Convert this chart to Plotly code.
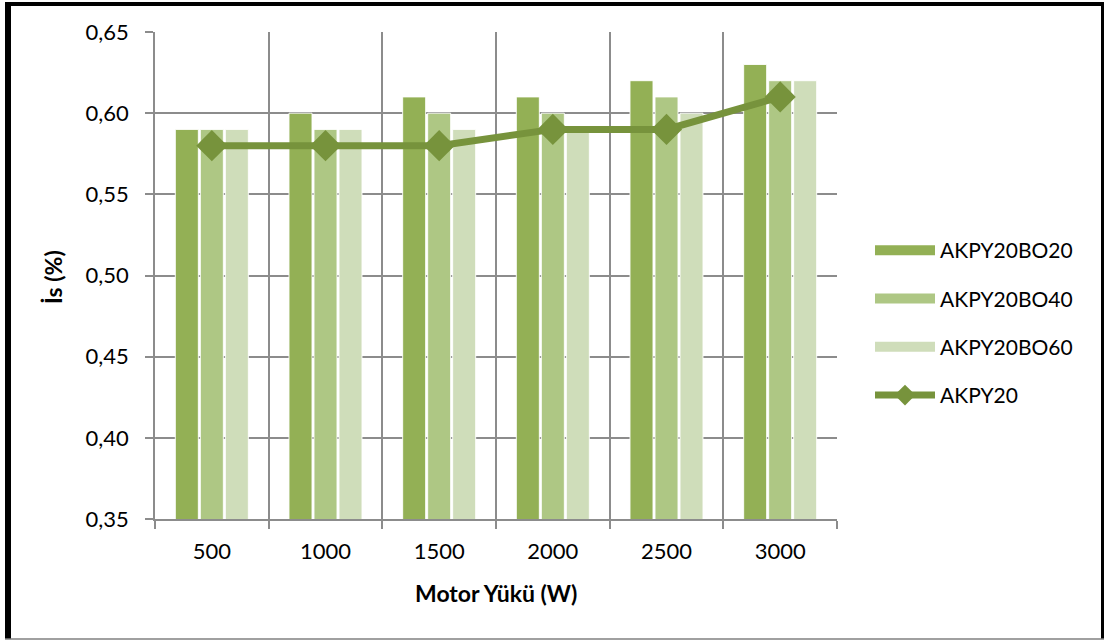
import plotly.graph_objects as go

# Motor load categories (W)
loads = ["500", "1000", "1500", "2000", "2500", "3000"]

# İs (%) values per blend
akpy20bo20 = [0.59, 0.60, 0.61, 0.61, 0.62, 0.63]
akpy20bo40 = [0.59, 0.59, 0.60, 0.60, 0.61, 0.62]
akpy20bo60 = [0.59, 0.59, 0.59, 0.59, 0.60, 0.62]
akpy20 = [0.58, 0.58, 0.58, 0.59, 0.59, 0.61]

y_ticks = [0.35, 0.40, 0.45, 0.50, 0.55, 0.60, 0.65]

W, H = 1105, 640
L, R, T, B = 155, 837, 32, 519  # plot area in pixels

FONT = "Lato, 'Open Sans', sans-serif"
GRID = "#8c8c8c"


def px_x(x):
    return (x - L) / (R - L)


def px_y(y):
    return (B - y) / (B - T)


fig = go.Figure()

bar_series = [
    ("AKPY20BO20", akpy20bo20, "#93B055", "a"),
    ("AKPY20BO40", akpy20bo40, "#AEC784", "b"),
    ("AKPY20BO60", akpy20bo60, "#CFDDBA", "c"),
]
for name, vals, col, grp in bar_series:
    fig.add_trace(go.Bar(
        x=loads, y=vals, name=name, legendgroup=grp, showlegend=False,
        marker=dict(color=col, line=dict(color="rgba(255,255,255,0.9)", width=1)),
    ))

# wide swatches for the bar series in the legend
for name, vals, col, grp in bar_series:
    fig.add_trace(go.Scatter(
        x=[None], y=[None], name=name, legendgroup=grp,
        mode="lines", line=dict(color=col, width=12),
        hoverinfo="skip",
    ))

fig.add_trace(go.Scatter(
    x=loads, y=akpy20, name="AKPY20", legendgroup="d",
    mode="lines+markers",
    line=dict(color="#77933C", width=7),
    marker=dict(symbol="diamond", size=24, color="#77933C"),
))

shapes = [
    # outer frame
    dict(type="rect", xref="paper", yref="paper",
         x0=px_x(5), x1=px_x(11), y0=px_y(639), y1=px_y(2),
         fillcolor="black", line=dict(width=0), layer="above"),
    dict(type="rect", xref="paper", yref="paper",
         x0=px_x(5), x1=px_x(1104), y0=px_y(6), y1=px_y(2),
         fillcolor="black", line=dict(width=0), layer="above"),
    dict(type="rect", xref="paper", yref="paper",
         x0=px_x(1101), x1=px_x(1104), y0=px_y(639), y1=px_y(2),
         fillcolor="black", line=dict(width=0), layer="above"),
    dict(type="line", xref="paper", yref="paper",
         x0=px_x(5), x1=px_x(1104), y0=px_y(639), y1=px_y(639),
         line=dict(color="#808080", width=1.5), layer="above"),
]

annotations = [
    dict(text="<b>İs (%)</b>", xref="paper", yref="paper",
         x=px_x(53), y=px_y(277), textangle=-90, showarrow=False,
         font=dict(family=FONT, size=23, color="black"),
         xanchor="center", yanchor="middle"),
    dict(text="<b>Motor Yükü (W)</b>", xref="paper", yref="paper",
         x=px_x(496), y=px_y(593), showarrow=False,
         font=dict(family=FONT, size=23, color="black"),
         xanchor="center", yanchor="middle"),
]

fig.update_layout(
    width=W, height=H,
    margin=dict(l=L, r=W - R, t=T, b=H - B),
    paper_bgcolor="white", plot_bgcolor="white",
    separators=", ",
    barmode="group", bargap=0.34, bargroupgap=0.08,
    font=dict(family=FONT, size=22, color="black"),
    showlegend=True,
    legend=dict(x=px_x(870), y=px_y(230), xanchor="left", yanchor="top",
                tracegroupgap=18, font=dict(family=FONT, size=21),
                itemwidth=60, bgcolor="rgba(0,0,0,0)"),
    shapes=shapes,
    annotations=annotations,
)

fig.update_xaxes(
    type="category", tickson="boundaries",
    showgrid=True, gridcolor=GRID, gridwidth=1.5,
    showline=True, linecolor=GRID, linewidth=1.5,
    ticks="outside", ticklen=8, tickcolor=GRID, tickwidth=1.5,
    ticklabelstandoff=12,
)
fig.update_yaxes(
    range=[0.35, 0.65], tickvals=y_ticks, tickformat=".2f",
    showgrid=True, gridcolor=GRID, gridwidth=1.5,
    showline=True, linecolor=GRID, linewidth=1.5,
    ticks="outside", ticklen=8, tickcolor=GRID, tickwidth=1.5,
    ticklabelstandoff=12, zeroline=False,
)

fig.write_html("out.html")
